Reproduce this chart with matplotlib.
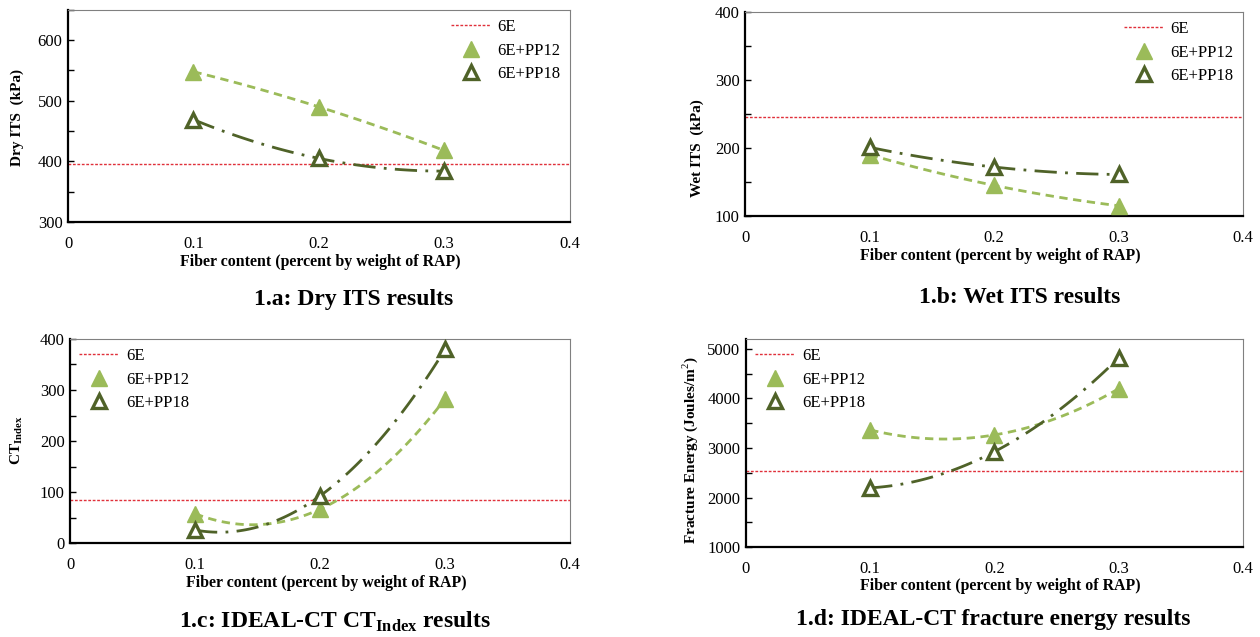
import numpy as np
import matplotlib
matplotlib.use("Agg")
import matplotlib.pyplot as plt
from matplotlib.ticker import MultipleLocator

plt.rcParams['font.family'] = ['Liberation Serif', 'DejaVu Serif']
plt.rcParams['mathtext.fontset'] = 'custom'
plt.rcParams['mathtext.rm'] = 'Liberation Serif'
plt.rcParams['mathtext.bf'] = 'Liberation Serif:bold'

fiber = [0.1, 0.2, 0.3]

dry_6e = 395
dry_pp12 = [548, 490, 418]
dry_pp18 = [469, 405, 384]

wet_6e = 245
wet_pp12 = [190, 145, 115]
wet_pp18 = [201, 172, 161]

ct_6e = 84
ct_pp12 = [58, 67, 283]
ct_pp18 = [26, 93, 380]

fe_6e = 2534
fe_pp12 = [3365, 3264, 4196]
fe_pp18 = [2196, 2926, 4818]

C12 = '#9BBB59'
C18 = '#4F6228'
CRED = '#E0303A'

fig = plt.figure(figsize=(12.6, 6.37), dpi=100)

panels = [
    dict(rect=[0.054, 0.6515, 0.398, 0.333], base=dry_6e, p12=dry_pp12, p18=dry_pp18,
         ylim=(300, 650), major=100, minor=50, ylabel='Dry ITS  (kPa)', loc='upper right',
         caption='1.a: Dry ITS results', cap=(354, 300), xl=(320, 262), yl=(17, 118)),
    dict(rect=[0.5915, 0.661, 0.395, 0.320], base=wet_6e, p12=wet_pp12, p18=wet_pp18,
         ylim=(100, 400), major=100, minor=50, ylabel='Wet ITS  (kPa)', loc='upper right',
         caption='1.b: Wet ITS results', cap=(1020, 297), xl=(1000, 256), yl=(697, 148)),
    dict(rect=[0.0556, 0.147, 0.397, 0.321], base=ct_6e, p12=ct_pp12, p18=ct_pp18,
         ylim=(0, 400), major=100, minor=50, ylabel=r'CT$_{\mathbf{Index}}$', loc='upper left',
         caption=r'1.c: IDEAL-CT CT$_{\mathbf{Index}}$ results', cap=(335, 622), xl=(326, 583), yl=(17, 440)),
    dict(rect=[0.592, 0.141, 0.3945, 0.327], base=fe_6e, p12=fe_pp12, p18=fe_pp18,
         ylim=(1000, 5200), major=1000, minor=500, ylabel='Fracture Energy (Joules/m$^{2}$)', loc='upper left',
         caption='1.d: IDEAL-CT fracture energy results', cap=(993, 619), xl=(1000, 586), yl=(690, 450)),
]

W, H = 1260, 637
for p in panels:
    ax = fig.add_axes(p['rect'])
    ax.set_xlim(0, 0.4)
    ax.set_ylim(*p['ylim'])
    ax.axhline(p['base'], color=CRED, lw=1.0, ls=(0, (2, 1.2)), label='6E')
    xs = np.linspace(0.1, 0.3, 100)
    c12 = np.polyfit(fiber, p['p12'], 2)
    c18 = np.polyfit(fiber, p['p18'], 2)
    ax.plot(xs, np.polyval(c12, xs), color=C12, lw=2.0, ls=(0, (3, 2)))
    ax.plot(xs, np.polyval(c18, xs), color=C18, lw=2.0, ls=(0, (8, 3, 1, 3)))
    ax.plot(fiber, p['p12'], ls='none', marker='^', ms=11, color=C12, label='6E+PP12', zorder=5)
    ax.plot(fiber, p['p18'], ls='none', marker='^', ms=10, mfc='white', mec=C18, mew=2.4,
            label='6E+PP18', zorder=6)
    ax.set_xticks([0, 0.1, 0.2, 0.3, 0.4])
    ax.set_xticklabels(['0', '0.1', '0.2', '0.3', '0.4'])
    ax.yaxis.set_major_locator(MultipleLocator(p['major']))
    ax.yaxis.set_minor_locator(MultipleLocator(p['minor']))
    ax.tick_params(axis='y', which='both', direction='in', length=4, width=1, labelsize=12, pad=4)
    ax.tick_params(axis='x', which='both', length=0, labelsize=12, pad=10)
    for s in ['left', 'bottom']:
        ax.spines[s].set_linewidth(1.6)
        ax.spines[s].set_color('black')
    for s in ['top', 'right']:
        ax.spines[s].set_linewidth(0.8)
        ax.spines[s].set_color('#808080')
    ax.legend(loc=p['loc'], frameon=False, fontsize=12, handlelength=2.4,
              handletextpad=0.4, labelspacing=0.45, borderaxespad=0.15)
    fig.text(p['xl'][0] / W, 1 - p['xl'][1] / H, 'Fiber content (percent by weight of RAP)',
             ha='center', va='center', fontsize=11.4, fontweight='bold')
    fig.text(p['yl'][0] / W, 1 - p['yl'][1] / H, p['ylabel'], rotation=90,
             ha='center', va='center', fontsize=11, fontweight='bold')
    fig.text(p['cap'][0] / W, 1 - p['cap'][1] / H, p['caption'],
             ha='center', va='center', fontsize=17, fontweight='bold')

fig.savefig('out.png', dpi=100)
